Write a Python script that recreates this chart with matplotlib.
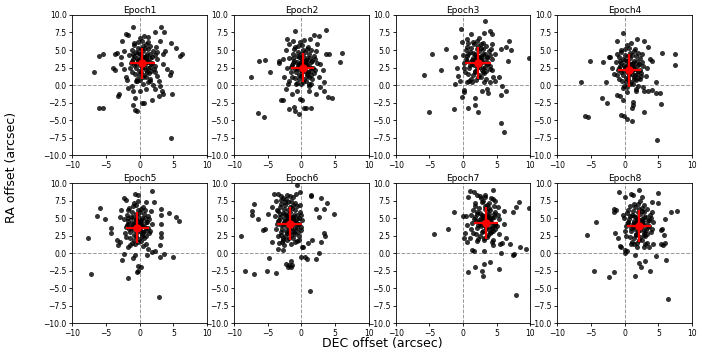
import numpy as np
import matplotlib
matplotlib.use("Agg")
import matplotlib.pyplot as plt

# offsets (DEC, RA) per epoch
epoch1 = [(-6.8, 1.8), (-6.1, -3.3), (-5.4, -3.3), (-6.1, 4.1), (-5.4, 4.4), (4.7, -7.6), (-3.2, -1.5), (-3.1, -1.3),
          (-3.6, 4.4), (-3.4, 4.6), (-1.0, 8.3), (3.2, 8.3), (3.6, 7.5), (6.0, 4.1), (6.3, 4.4), (5.4, 5.3), (4.6, 6.0),
          (4.8, -1.3), (4.7, 1.8), (4.5, 1.5), (-1.0, -2.9), (-0.7, -3.5), (-0.4, -3.7), (0.3, -2.6), (0.7, -2.5),
          (1.8, -2.1), (2.8, -1.6), (3.3, -0.8), (3.5, -1.3), (-3.9, 2.5), (-3.7, 2.1), (-2.1, 1.1), (-1.9, 0.7),
          (-1.7, -0.4), (-1.0, -0.8), (2.2, 1.8), (2.6, 1.3), (2.8, 0.6), (2.0, 0.0), (-2.0, 7.3), (-1.7, 7.2),
          (2.3, 7.5), (1.3, 6.9), (3.5, 4.4), (3.8, 4.9), (2.5, 4.7), (-2.3, 4.9), (-2.7, 4.0), (-2.8, 3.0),
          (-2.4, 2.3), (3.5, 3.0), (4.0, 2.3), (3.0, 6.3), (-2.6, 6.3), (-0.4, 0.6), (0.5, 0.1), (1.0, -0.6),
          (0.05, -0.8), (1.5, 0.6), (-1.2, -0.1), (-0.7, -1.8), (2.3, -0.6), (3.0, -0.2),
          (-1.3, 3.2), (-0.9, 4.1), (-0.6, 2.5), (-0.2, 3.6), (0.1, 4.4), (0.4, 2.9), (0.7, 3.8), (1.0, 2.2), (1.4, 3.3),
          (1.8, 4.0), (2.2, 2.7), (-1.1, 5.0), (-0.7, 1.6), (-0.3, 5.3), (0.2, 1.9), (0.5, 5.6), (0.9, 1.2), (1.3, 5.1),
          (1.7, 2.0), (2.0, 4.8), (-1.4, 2.4), (-0.8, 6.0), (-0.4, 0.9), (0.0, 2.8), (0.3, 6.3), (0.6, 3.5), (1.1, 4.5),
          (1.5, 2.6), (1.9, 3.1), (-1.0, 3.7), (-0.5, 4.7), (-0.1, 1.4), (0.3, 4.2), (0.8, 3.0), (1.2, 6.1), (1.6, 3.9),
          (2.1, 2.3), (-0.6, 0.6), (0.0, 6.7), (0.5, 1.1), (1.0, 5.8), (1.4, 1.7), (-0.3, 3.4), (0.2, 3.9), (0.7, 2.6),
          (1.1, 3.3), (0.4, 3.0), (-0.2, 4.6), (0.9, 4.2), (-1.6, 4.3), (2.4, 5.5), (-0.9, 5.7), (1.6, 0.8), (0.6, 7.0),
          (-1.2, 1.8), (2.5, 3.7),
          (-0.5, 3.0), (0.0, 3.5), (0.6, 4.0), (1.2, 2.5), (-0.8, 2.9), (0.3, 2.4), (0.9, 3.6), (1.5, 4.4), (-0.1, 2.0),
          (0.5, 4.8), (1.1, 1.9), (-0.4, 3.9), (0.2, 5.1), (0.8, 5.3), (1.7, 3.0), (-1.0, 4.5), (0.1, 0.7), (1.3, 0.5),
          (-0.3, 6.2), (1.6, 5.6), (0.6, 1.5), (-1.2, 3.5), (2.2, 4.3), (0.4, 3.3), (1.0, 3.9)]
epoch2 = [(-7.5, 1.15), (-6.4, -4.0), (-5.6, -4.6), (-6.3, 3.4), (-5.4, 3.6), (-4.6, 1.9), (-3.3, 3.4), (-3.3, 3.2),
          (-2.8, 3.7), (-2.3, 5.0), (-2.2, 6.6), (-0.9, 7.7), (3.6, 7.9), (2.6, 7.0), (1.8, 7.1), (4.1, 4.5), (3.7, 4.4),
          (6.1, 4.6), (5.8, 3.3), (4.0, -1.7), (4.6, -1.8), (-2.0, 0.15), (-2.3, -0.5), (-3.1, -2.1), (-2.7, -2.2),
          (-1.9, -3.4), (-1.1, -3.1), (-1.0, -3.7), (-0.4, -4.2), (0.45, -3.3), (0.75, -3.3), (1.5, -3.3), (-0.2, -2.0),
          (0.1, -2.2), (-1.4, -1.3), (-0.6, -0.8), (1.1, -0.8), (2.1, -1.3), (2.8, -0.3), (3.3, -0.8), (3.3, 0.4),
          (2.6, 1.1), (3.2, 2.1), (2.8, 3.0), (1.6, 0.9), (1.1, 0.15), (-2.6, 1.1), (-1.9, 0.6), (-2.1, 2.5),
          (-1.9, 5.9), (-1.3, 6.3), (1.3, 6.6), (2.3, 5.9),
          (-1.5, 2.6), (-1.1, 3.5), (-0.8, 1.9), (-0.4, 3.0), (-0.1, 3.8), (0.2, 2.3), (0.5, 3.2), (0.8, 1.6), (1.2, 2.7),
          (1.6, 3.4), (2.0, 2.1), (-1.3, 4.4), (-0.9, 1.0), (-0.5, 4.7), (0.0, 1.3), (0.3, 5.0), (0.7, 0.6), (1.1, 4.5),
          (1.5, 1.4), (1.8, 4.2), (-1.6, 1.8), (-1.0, 5.4), (-0.6, 0.3), (-0.2, 2.2), (0.1, 5.7), (0.4, 2.9), (0.9, 3.9),
          (1.3, 2.0), (1.7, 2.5), (-1.2, 3.1), (-0.7, 4.1), (-0.3, 0.8), (0.1, 3.6), (0.6, 2.4), (1.0, 5.5), (1.4, 3.3),
          (1.9, 1.7), (-0.8, 0.1), (-0.2, 6.1), (0.3, 0.5), (0.8, 5.2), (1.2, 1.1), (-0.5, 2.8), (0.0, 3.3), (0.5, 2.0),
          (0.9, 2.7), (0.2, 2.5), (-0.4, 4.0), (0.7, 3.6), (-1.8, 3.8), (2.2, 4.9), (-1.1, 5.1), (1.4, 0.2), (0.4, 6.4),
          (-1.4, 1.2), (2.3, 3.1),
          (-0.7, 2.4), (-0.2, 2.9), (0.4, 3.4), (1.0, 1.9), (-1.0, 2.3), (0.1, 1.8), (0.7, 3.0), (1.3, 3.8), (-0.3, 1.4),
          (0.3, 4.2), (0.9, 1.3), (-0.6, 3.3), (0.0, 4.5), (0.6, 4.7), (1.5, 2.4), (-1.2, 3.9), (-0.1, 0.1), (1.1, -0.1),
          (-0.5, 5.6), (1.4, 5.0), (0.4, 0.9), (-1.4, 2.9), (2.0, 3.7), (0.2, 2.7), (0.8, 3.3)]
epoch3 = [(3.3, 9.1), (-0.3, 8.0), (-5.8, 1.4), (-4.6, 4.4), (-2.5, 5.2), (-3.35, 2.2), (-5.0, -3.9), (-1.3, -3.4),
          (-1.2, 0.1), (-0.1, -1.7), (0.1, -1.0), (0.2, -0.7), (0.8, -3.3), (2.2, -3.9), (1.8, -2.9), (1.8, -1.8),
          (2.8, -0.8), (3.5, -0.6), (3.7, -1.2), (4.8, 0.6), (5.3, 1.1), (5.8, -0.1), (5.6, -1.4), (6.4, -0.9),
          (5.6, -5.4), (6.1, -6.7), (6.8, 6.3), (6.4, 5.5), (7.1, 5.0), (6.7, 3.5), (9.8, 3.9), (5.6, 5.2), (4.0, 7.7),
          (4.3, 7.3), (3.1, 7.4), (1.1, 7.3), (0.6, 6.6), (-0.2, 6.1), (-1.2, 4.0), (-0.9, 2.5), (-0.7, 1.3),
          (-0.4, 0.6), (0.6, 0.4), (1.3, 0.4), (4.3, 2.1), (4.5, 1.1), (4.0, 0.4), (4.8, 4.4), (4.3, 5.9),
          (0.2, 3.2), (0.6, 4.1), (0.9, 2.5), (1.3, 3.6), (1.7, 4.4), (2.1, 2.9), (2.5, 3.8), (2.8, 2.2), (3.2, 3.3),
          (3.6, 4.0), (4.0, 2.7), (0.4, 5.0), (0.8, 1.6), (1.2, 5.3), (1.8, 1.9), (2.2, 5.6), (2.6, 1.2), (3.0, 5.1),
          (3.4, 2.0), (3.8, 4.8), (0.1, 2.4), (0.7, 6.0), (1.1, 0.9), (1.6, 2.8), (2.0, 6.3), (2.4, 3.5), (2.9, 4.5),
          (3.3, 2.6), (3.7, 3.1), (0.5, 3.7), (1.0, 4.7), (1.4, 1.4), (1.9, 4.2), (2.5, 3.0), (3.0, 6.0), (3.5, 3.9),
          (4.0, 2.3), (0.9, 0.6), (1.6, 5.9), (2.2, 1.1), (2.7, 5.8), (3.1, 1.7), (1.3, 3.4), (1.9, 3.9), (2.4, 2.6),
          (2.8, 3.3), (2.2, 3.0), (1.5, 4.6), (2.6, 4.2), (0.0, 4.3), (4.2, 5.2), (0.6, 5.5), (3.4, 0.8), (2.3, 6.7),
          (0.3, 1.8), (4.3, 3.7),
          (1.3, 3.0), (1.8, 3.5), (2.4, 4.0), (3.0, 2.5), (1.0, 2.9), (2.1, 2.4), (2.7, 3.6), (3.3, 4.4), (1.7, 2.0),
          (2.3, 4.8), (2.9, 1.9), (1.4, 3.9), (2.0, 5.1), (2.6, 5.3), (3.5, 3.0), (0.8, 4.5), (1.9, 0.7), (3.1, 0.5),
          (1.5, 6.2), (3.4, 5.6), (2.4, 1.5), (0.6, 3.5), (4.0, 4.3), (2.2, 3.3), (2.8, 3.9)]
epoch4 = [(-0.2, 7.4), (-6.5, 0.4), (-5.9, -4.4), (-5.4, -4.5), (-5.1, 3.5), (-3.25, 3.25), (-2.8, 0.5), (-3.4, -1.8),
          (-2.6, -2.5), (7.4, 4.5), (5.5, 4.6), (7.5, 2.9), (4.6, 0.5), (3.5, -0.8), (4.0, -0.7), (4.7, -1.2),
          (5.2, -1.2), (5.3, -2.7), (4.8, -7.8), (2.8, -3.8), (1.2, -2.8), (1.0, -3.3), (1.2, -2.4), (-0.6, -4.25),
          (-0.1, -4.4), (0.4, -4.8), (1.0, -5.2), (-0.3, -2.1), (-1.1, -1.4), (-0.7, -1.5), (0.4, -1.05), (1.6, -0.8),
          (2.85, -0.8), (2.65, -0.25), (3.8, 3.7), (4.0, 3.4), (3.5, 5.4), (2.8, 6.3), (1.8, 6.6), (-1.2, 6.3),
          (-1.2, 4.4), (-2.4, 4.0), (-2.2, 4.05), (-1.9, 2.5), (-1.65, 1.6), (2.2, 0.9), (3.1, 1.3), (3.3, 2.5),
          (-1.0, 2.2), (-0.6, 3.1), (-0.3, 1.5), (0.1, 2.6), (0.4, 3.4), (0.7, 1.9), (1.0, 2.8), (1.3, 1.2), (1.7, 2.3),
          (2.1, 3.0), (2.4, 1.7), (-0.8, 4.0), (-0.4, 0.6), (0.0, 4.3), (0.5, 0.9), (0.8, 4.6), (1.2, 0.2), (1.6, 4.1),
          (2.0, 1.0), (2.3, 3.8), (-1.1, 1.4), (-0.5, 5.0), (-0.1, -0.1), (0.3, 1.8), (0.6, 5.3), (0.9, 2.5), (1.4, 3.5),
          (1.8, 1.6), (2.2, 2.1), (-0.7, 2.7), (-0.2, 3.7), (0.2, 0.4), (0.6, 3.2), (1.1, 2.0), (1.5, 5.1), (1.9, 2.9),
          (2.4, 1.3), (-0.3, -0.4), (0.3, 5.7), (0.8, 0.1), (1.3, 4.8), (1.7, 0.7), (0.0, 2.4), (0.5, 2.9), (1.0, 1.6),
          (1.4, 2.3), (0.7, 2.0), (0.1, 3.6), (1.2, 3.2), (-1.3, 3.3), (2.6, 4.5), (-0.6, 4.7), (1.9, -0.2), (0.9, 6.0),
          (-0.9, 0.8), (2.7, 2.7),
          (-0.2, 2.0), (0.3, 2.5), (0.9, 3.0), (1.5, 1.5), (-0.5, 1.9), (0.6, 1.4), (1.2, 2.6), (1.8, 3.4), (0.2, 1.0),
          (0.8, 3.8), (1.4, 0.9), (-0.1, 2.9), (0.5, 4.1), (1.1, 4.3), (2.0, 2.0), (-0.7, 3.5), (0.4, -0.3), (1.6, -0.5),
          (0.0, 5.2), (1.9, 4.6), (0.9, 0.5), (-0.9, 2.5), (2.5, 3.3), (0.7, 2.3), (1.3, 2.9)]
epoch5 = [(-7.6, 2.1), (-7.2, -3.0), (-6.3, 5.3), (-5.9, 6.5), (-5.1, 4.8), (-4.3, 3.65), (-4.3, 2.9), (-3.4, 1.85),
          (-3.2, 1.1), (1.9, 8.9), (-0.75, 8.5), (-0.2, 8.25), (-2.4, 7.9), (-2.1, 7.6), (1.0, 7.3), (2.1, 7.3),
          (4.4, 5.7), (5.4, 5.1), (5.9, 4.6), (3.1, 6.25), (3.2, 5.4), (3.1, 4.2), (3.2, 2.9), (3.1, 2.3), (3.0, 1.2),
          (2.3, 0.3), (1.8, 0.2), (4.9, -0.6), (3.0, -0.6), (3.6, -0.2), (-1.8, -3.6), (-0.3, -1.8), (0.15, -2.0),
          (-0.45, -2.7), (-0.25, -2.5), (2.9, -6.3), (-2.6, -1.0), (-2.3, -0.15), (-1.05, -0.75), (-0.7, -0.3),
          (1.05, -0.3), (1.3, 0.65), (-2.9, 1.6), (-1.7, 0.9), (-2.7, 6.1), (-2.9, 5.2),
          (-2.1, 3.7), (-1.7, 4.6), (-1.4, 3.0), (-1.0, 4.1), (-0.6, 4.9), (-0.3, 3.4), (0.0, 4.3), (0.3, 2.7), (0.7, 3.8),
          (1.1, 4.5), (1.5, 3.2), (-1.9, 5.5), (-1.5, 2.1), (-1.1, 5.8), (-0.6, 2.4), (-0.2, 6.1), (0.2, 1.7), (0.6, 5.6),
          (1.0, 2.5), (1.3, 5.3), (-2.2, 2.9), (-1.6, 6.5), (-1.2, 1.4), (-0.8, 3.3), (-0.5, 6.8), (-0.1, 4.0), (0.4, 5.0),
          (0.8, 3.1), (1.2, 3.6), (-1.8, 4.2), (-1.3, 5.2), (-0.9, 1.9), (-0.5, 4.7), (0.1, 3.5), (0.5, 6.6), (0.9, 4.4),
          (1.4, 2.8), (-1.4, 1.1), (-0.8, 7.2), (-0.3, 1.6), (0.2, 6.3), (0.6, 2.2), (-1.1, 3.9), (-0.5, 4.4), (0.0, 3.1),
          (0.4, 3.8), (-0.35, 3.6), (-1.0, 5.1), (0.2, 4.7), (-2.4, 4.8), (1.7, 6.0), (-1.7, 6.2), (0.9, 1.3),
          (-0.2, 7.5), (-2.0, 2.3), (1.8, 4.2),
          (-1.25, 3.55), (-0.75, 4.05), (-0.15, 4.55), (0.45, 3.05), (-1.55, 3.45), (-0.45, 2.95), (0.15, 4.15),
          (0.75, 4.95), (-0.85, 2.55), (-0.25, 5.35), (0.35, 2.45), (-1.15, 4.45), (-0.55, 5.65), (0.05, 5.85),
          (0.95, 3.55), (-1.75, 5.05), (-0.65, 1.25), (0.55, 1.05), (-1.05, 6.75), (0.85, 6.15), (-0.15, 2.05),
          (-1.95, 4.05), (1.45, 4.85), (-0.35, 3.85), (0.25, 4.45)]
epoch6 = [(-0.6, 9.7), (-9.0, 2.5), (-8.3, -2.5), (-7.1, -3.0), (-5.1, -2.5), (-3.8, -2.9), (-4.8, -0.65), (-6.5, 4.8),
          (-7.4, 5.5), (-7.4, 6.0), (-7.1, 7.05), (-4.1, 8.5), (-3.5, 8.5), (4.9, 5.6), (3.4, 6.25), (3.8, 7.1),
          (2.9, 7.8), (1.5, 8.15), (1.5, 8.35), (-0.2, 8.7), (2.1, 6.35), (2.55, 5.2), (3.3, 2.9), (3.55, 2.45),
          (2.95, 1.6), (1.6, 1.85), (1.05, 1.4), (0.3, 0.8), (0.05, 0.8), (0.6, -0.5), (0.8, -0.9), (2.1, -0.85),
          (2.55, 0.05), (-0.05, -0.6), (1.35, -5.45), (-1.5, -1.1), (-1.4, -1.7), (-1.8, -1.7), (-2.0, -2.05),
          (-1.5, -2.05), (-2.3, -1.5), (-2.7, 0.45), (-3.5, 0.65), (-4.4, 1.6), (-5.4, 3.5), (-5.7, 3.35), (-4.9, 5.6),
          (-4.4, 6.6),
          (-3.6, 4.2), (-3.2, 5.1), (-2.9, 3.5), (-2.5, 4.6), (-2.1, 5.4), (-1.8, 3.9), (-1.5, 4.8), (-1.2, 3.2),
          (-0.8, 4.3), (-0.4, 5.0), (0.0, 3.7), (-3.4, 6.0), (-3.0, 2.6), (-2.6, 6.3), (-2.1, 2.9), (-1.7, 6.6),
          (-1.3, 2.2), (-0.9, 6.1), (-0.5, 3.0), (-0.2, 5.8), (-3.7, 3.4), (-3.1, 7.0), (-2.7, 1.9), (-2.3, 3.8),
          (-2.0, 7.3), (-1.6, 4.5), (-1.1, 5.5), (-0.7, 3.6), (-0.3, 4.1), (-3.3, 4.7), (-2.8, 5.7), (-2.4, 2.4),
          (-2.0, 5.2), (-1.4, 4.0), (-1.0, 7.1), (-0.6, 4.9), (-0.1, 3.3), (-2.9, 1.6), (-2.3, 7.7), (-1.8, 2.1),
          (-1.3, 6.8), (-0.9, 2.7), (-2.6, 4.4), (-2.0, 4.9), (-1.5, 3.6), (-1.1, 4.3), (-1.8, 4.1), (-2.5, 5.6),
          (-1.3, 5.2), (-3.9, 5.3), (-0.2, 6.9), (-3.2, 6.6), (-0.6, 1.7), (-1.7, 8.1), (-3.5, 2.5), (0.1, 4.7),
          (-2.2, 8.3), (-1.2, 8.0), (-3.0, 8.1), (-0.8, 8.4), (-3.8, 7.5), (-2.7, 7.9), (-1.5, 1.3), (-2.6, 1.2),
          (-0.4, 1.9), (-3.3, 1.5),
          (-2.7, 4.1), (-2.2, 4.6), (-1.6, 5.1), (-1.0, 3.6), (-3.0, 4.0), (-1.9, 3.5), (-1.3, 4.7), (-0.7, 5.5),
          (-2.3, 3.1), (-1.7, 5.9), (-1.1, 3.0), (-2.6, 5.0), (-2.0, 6.2), (-1.4, 6.4), (-0.5, 4.1), (-3.2, 5.6),
          (-2.1, 1.8), (-0.9, 1.6), (-2.5, 7.3), (-0.6, 6.7), (-1.6, 2.6), (-3.4, 4.6), (0.0, 5.4), (-1.8, 4.4),
          (-1.2, 5.0), (-3.1, 3.0), (-2.4, 6.9), (-0.4, 2.4), (-3.6, 6.2), (-1.5, 7.5), (-2.8, 2.2), (-0.9, 4.6),
          (-2.2, 5.3), (-3.0, 7.6), (-1.9, 2.9)]
epoch7 = [(-4.25, 2.7), (-2.25, 3.5), (-1.3, 5.8), (0.0, 5.25), (0.4, 5.3), (1.0, 8.9), (1.6, 8.75), (0.8, 8.0),
          (2.5, 8.1), (3.3, 8.25), (4.4, 9.0), (4.2, 7.8), (4.7, 7.5), (8.3, 7.25), (7.8, 6.6), (7.4, 5.9), (9.75, 6.4),
          (6.0, 6.0), (6.0, 4.2), (4.8, 4.0), (6.3, 2.1), (5.5, 1.3), (5.8, 1.4), (7.0, 1.3), (8.4, 0.9), (9.35, 0.6),
          (7.4, -0.3), (7.6, -0.15), (5.7, -0.05), (4.5, 1.15), (3.1, 0.35), (1.6, 0.35), (1.3, 0.45), (0.7, -2.75),
          (1.7, -1.95), (2.8, -2.5), (2.9, -3.3), (3.05, -1.5), (4.05, -1.25), (5.3, -2.3), (7.8, -6.0), (0.6, 1.6),
          (0.3, 2.8), (0.6, 4.0), (0.2, 2.1),
          (1.3, 4.3), (1.7, 5.2), (2.0, 3.6), (2.4, 4.7), (2.8, 5.5), (3.1, 4.0), (3.5, 4.9), (3.8, 3.3), (4.2, 4.4),
          (4.6, 5.1), (5.0, 3.8), (1.5, 6.1), (1.9, 2.7), (2.3, 6.4), (2.8, 3.0), (3.2, 6.7), (3.6, 2.3), (4.0, 6.2),
          (4.4, 3.1), (4.7, 5.9), (1.2, 3.5), (1.8, 7.1), (2.2, 2.0), (2.6, 3.9), (2.9, 7.4), (3.3, 4.6), (3.8, 5.6),
          (4.2, 3.7), (4.6, 4.2), (1.6, 4.8), (2.1, 5.8), (2.5, 2.5), (2.9, 5.3), (3.5, 4.1), (3.9, 7.2), (4.3, 5.0),
          (4.8, 3.4), (2.0, 1.7), (2.6, 7.8), (3.1, 2.2), (3.6, 6.9), (4.0, 2.8), (2.3, 4.5), (2.9, 5.0), (3.4, 3.7),
          (3.8, 4.4), (3.45, 4.2), (2.5, 5.7), (3.7, 5.3), (1.1, 5.4), (5.2, 6.6), (1.7, 6.7), (4.4, 1.9), (3.3, 8.0),
          (1.4, 2.9), (5.3, 4.8), (1.0, 2.2), (2.0, 8.3), (4.5, 7.7), (5.4, 2.7),
          (2.55, 4.15), (3.05, 4.65), (3.65, 5.15), (4.25, 3.65), (2.25, 4.05), (3.35, 3.55), (3.95, 4.75), (4.55, 5.55),
          (2.95, 3.15), (3.55, 5.95), (4.15, 3.05), (2.65, 5.05), (3.25, 6.25), (3.85, 6.45), (4.75, 4.15), (2.05, 5.65),
          (3.15, 1.85), (4.35, 1.65), (2.75, 7.35), (4.65, 6.75), (3.65, 2.65), (1.85, 4.65), (5.25, 5.45), (3.45, 4.45),
          (4.05, 5.05)]
epoch8 = [(2.15, 9.05), (-0.8, 8.7), (0.0, 8.0), (0.9, 8.4), (1.2, 8.25), (2.55, 8.0), (4.9, 8.6), (4.9, 7.2),
          (4.05, 7.3), (6.9, 5.8), (7.75, 6.0), (5.9, 4.9), (-4.3, 4.45), (-5.6, 2.55), (-1.55, 6.35), (-1.3, 6.1),
          (-1.65, 5.9), (-0.3, 5.4), (-1.4, 2.9), (-1.0, 2.1), (-0.65, 1.0), (-0.5, 0.8), (0.07, 0.4), (0.3, 0.3),
          (0.07, -0.05), (1.5, -0.3), (2.05, -1.45), (2.45, -2.05), (3.05, -1.1), (3.8, -2.5), (4.7, -0.45),
          (6.1, -1.0), (5.3, 1.3), (5.65, 1.2), (5.9, 1.4), (5.5, 3.5), (5.3, 3.35), (5.8, 2.55), (4.15, 1.3),
          (3.65, 0.8), (2.85, 0.8), (1.8, 0.8), (1.35, 1.3), (-4.6, -2.5), (-1.65, -2.7), (-2.4, -3.4), (1.45, -3.3),
          (6.4, -6.55),
          (0.2, 3.9), (0.6, 4.8), (0.9, 3.2), (1.3, 4.3), (1.7, 5.1), (2.1, 3.6), (2.5, 4.5), (2.8, 2.9), (3.2, 4.0),
          (3.6, 4.7), (4.0, 3.4), (0.4, 5.7), (0.8, 2.3), (1.2, 6.0), (1.7, 2.6), (2.1, 6.3), (2.5, 1.9), (2.9, 5.8),
          (3.3, 2.7), (3.7, 5.5), (0.1, 3.1), (0.7, 6.7), (1.1, 1.6), (1.5, 3.5), (1.9, 7.0), (2.3, 4.2), (2.8, 5.2),
          (3.2, 3.3), (3.6, 3.8), (0.5, 4.4), (1.0, 5.4), (1.4, 2.1), (1.8, 4.9), (2.4, 3.7), (2.9, 6.8), (3.4, 4.6),
          (3.9, 3.0), (0.9, 1.3), (1.5, 6.6), (2.1, 1.8), (2.6, 6.5), (3.0, 2.4), (1.2, 4.1), (1.8, 4.6), (2.3, 3.3),
          (2.7, 4.0), (2.1, 3.8), (1.4, 5.3), (2.5, 4.9), (-0.1, 5.0), (4.1, 5.9), (0.5, 6.2), (3.3, 1.5), (2.2, 7.4),
          (0.2, 2.5), (4.2, 4.4),
          (1.2, 3.75), (1.7, 4.25), (2.3, 4.75), (2.9, 3.25), (0.9, 3.65), (2.0, 3.15), (2.6, 4.35), (3.2, 5.15),
          (1.6, 2.75), (2.2, 5.55), (2.8, 2.65), (1.3, 4.65), (1.9, 5.85), (2.5, 6.05), (3.4, 3.75), (0.7, 5.25),
          (1.8, 1.45), (3.0, 1.25), (1.4, 6.95), (3.3, 6.35), (2.3, 2.25), (0.5, 4.25), (3.9, 5.05), (2.1, 4.05),
          (2.7, 4.65)]

epochs = [epoch1, epoch2, epoch3, epoch4, epoch5, epoch6, epoch7, epoch8]
titles = ["Epoch1", "Epoch2", "Epoch3", "Epoch4", "Epoch5", "Epoch6", "Epoch7", "Epoch8"]

# red cross: mean position and spread
mean_dec = [0.4, 0.17, 2.2, 0.67, -0.35, -1.76, 3.45, 2.1]
mean_ra = [3.1, 2.48, 3.1, 2.1, 3.65, 4.22, 4.27, 3.84]
err_dec = [1.8, 1.7, 1.9, 1.7, 1.7, 1.8, 1.8, 1.75]
err_ra = [2.25, 2.05, 2.3, 2.4, 2.2, 2.3, 2.3, 2.25]

fig, axes = plt.subplots(2, 4, figsize=(7.02, 3.57), dpi=100)
fig.subplots_adjust(left=0.103, right=0.986, top=0.958, bottom=0.095, wspace=0.2, hspace=0.2)

for i, ax in enumerate(axes.flat):
    pts = np.array(epochs[i])
    ax.axhline(0, color="gray", ls="--", lw=0.7, alpha=0.8, zorder=1)
    ax.axvline(0, color="gray", ls="--", lw=0.7, alpha=0.8, zorder=1)
    ax.scatter(pts[:, 0], pts[:, 1], s=13, color="black", alpha=0.8, linewidths=0, zorder=2)
    ax.errorbar(mean_dec[i], mean_ra[i], xerr=err_dec[i], yerr=err_ra[i], fmt="o", color="red",
                ms=5, elinewidth=1.6, zorder=3)
    ax.set_xlim(-10, 10)
    ax.set_ylim(-10, 10)
    ax.set_xticks([-10, -5, 0, 5, 10])
    ax.set_yticks(np.arange(-10, 10.1, 2.5))
    ax.tick_params(labelsize=5.5, length=2.5, width=0.6, pad=1.5)
    for sp in ax.spines.values():
        sp.set_linewidth(0.6)
    ax.set_title(titles[i], fontsize=6.5, pad=1.5)

fig.text(0.545, 0.038, "DEC offset (arcsec)", ha="center", va="center", fontsize=9)
fig.text(0.017, 0.53, "RA offset (arcsec)", ha="center", va="center", rotation=90, fontsize=9)

fig.savefig("out.png", dpi=100)
